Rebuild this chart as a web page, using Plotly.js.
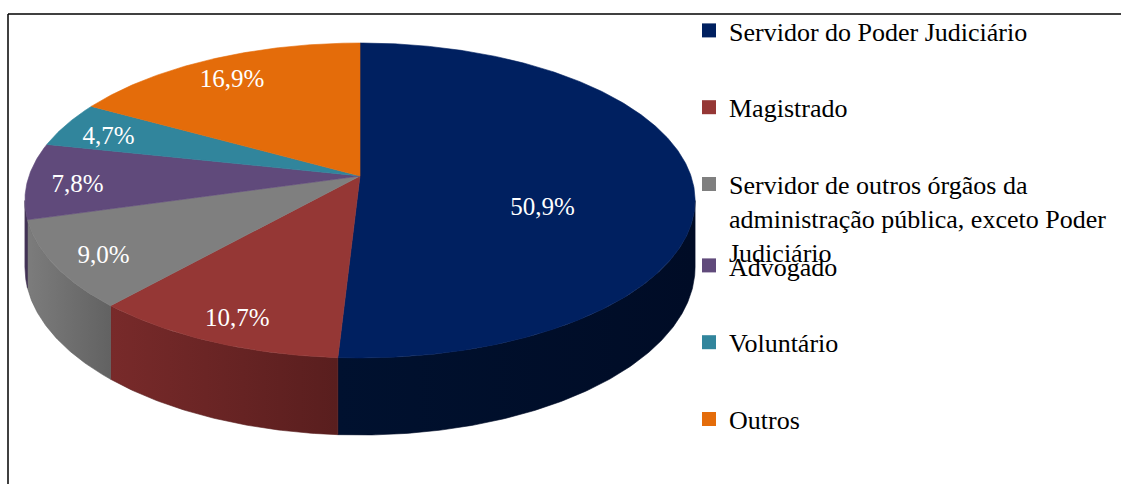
<!DOCTYPE html>
<html>
<head>
<meta charset="utf-8">
<script src="https://cdn.plot.ly/plotly-3.0.1.min.js"></script>
<style>html,body{margin:0;padding:0;background:#fff;}#chart{width:1121px;height:484px;}</style>
</head>
<body>
<div id="chart"></div>
<script>
// ---- data ----
const categories = ['Servidor do Poder Judiciário', 'Magistrado', 'Servidor de outros órgãos da administração pública, exceto Poder Judiciário', 'Advogado', 'Voluntário', 'Outros'];
const legendLabels = ['Servidor do Poder Judiciário', 'Magistrado', 'Servidor de outros órgãos da<br>administração pública, exceto Poder<br>Judiciário', 'Advogado', 'Voluntário', 'Outros'];
const shares = [50.9, 10.7, 9.0, 7.8, 4.7, 16.9];
const valueLabels = ['50,9%', '10,7%', '9,0%', '7,8%', '4,7%', '16,9%'];
const topColors = ['#002060', '#953735', '#7F7F7F', '#604A7B', '#31859C', '#E46C0A'];
const sideLight = ['#00112f', '#782a2a', '#7c7c7c', '#4c3a62', '#27697b', '#b45508'];
const sideDark = ['#000c26', '#591e1e', '#626262', '#3c2e4e', '#1e5361', '#8e4306'];

// ---- geometry (pixel space of the plot) ----
const CX = 360, CY = 176, A = 331, B = 153.7, K = 0.1556, D0 = 77;
const FONT = 'Liberation Serif, Times New Roman, serif';
const SIL = Math.acos(-K) * 180 / Math.PI;   // silhouette angle (~99 deg)

function proj(deg, r) {
  const t = deg * Math.PI / 180;
  const u = r * Math.sin(t), v = -r * Math.cos(t);
  const w = 1 - K * v;
  return [CX + A * u / w, CY + B * v / w, v];
}
function depth(v) { return D0 * (1 - K) / (1 - K * v); }

const total = shares.reduce((a, b) => a + b, 0);
const traces = [];
const sideTraces = [];
const topTraces = [];
const labelX = [], labelY = [];
let cum = 0;
shares.forEach((s, i) => {
  const a0 = cum / total * 360;
  const a1 = (cum + s) / total * 360;
  cum += s;
  // top face
  const xs = [CX], ys = [CY];
  const n = Math.max(4, Math.ceil((a1 - a0) / 0.5));
  for (let j = 0; j <= n; j++) {
    const p = proj(a0 + (a1 - a0) * j / n, 1);
    xs.push(p[0]); ys.push(p[1]);
  }
  xs.push(CX); ys.push(CY);
  topTraces.push({
    type: 'scatter', mode: 'lines', x: xs, y: ys, fill: 'toself',
    fillcolor: topColors[i], line: {color: topColors[i], width: 0.6},
    hoverinfo: 'text', text: categories[i] + ': ' + valueLabels[i], showlegend: false
  });
  // side face (visible front part)
  const s0 = Math.max(a0, SIL), s1 = Math.min(a1, 360 - SIL);
  if (s1 > s0) {
    const sx = [], sy = [];
    const m = Math.max(4, Math.ceil((s1 - s0) / 0.5));
    for (let j = 0; j <= m; j++) {
      const p = proj(s0 + (s1 - s0) * j / m, 1);
      sx.push(p[0]); sy.push(p[1]);
    }
    for (let j = m; j >= 0; j--) {
      const p = proj(s0 + (s1 - s0) * j / m, 1);
      sx.push(p[0]); sy.push(p[1] + depth(p[2]));
    }
    sx.push(sx[0]); sy.push(sy[0]);
    sideTraces.push({
      type: 'scatter', mode: 'lines', x: sx, y: sy, fill: 'toself',
      fillcolor: sideDark[i],
      fillgradient: {type: 'horizontal', colorscale: [[0, sideLight[i]], [1, sideDark[i]]]},
      line: {color: sideDark[i], width: 0.6}, hoverinfo: 'skip', showlegend: false
    });
  }
  // label position
  const frac = s / total;
  const mid = (a0 + a1) / 2;
  const r = frac > 0.3 ? 0.55 : 0.85;
  const p = proj(mid, r);
  labelX.push(p[0]);
  labelY.push(p[1] + (frac > 0.3 ? 30 : 6));
});

traces.push(...sideTraces, ...topTraces);
traces.push({
  type: 'scatter', mode: 'text', x: labelX, y: labelY, text: valueLabels,
  textfont: {family: FONT, size: 25, color: '#ffffff'}, textposition: 'middle center',
  hoverinfo: 'skip', showlegend: false
});
// legend entries
categories.forEach((c, i) => {
  traces.push({
    type: 'scatter', mode: 'markers', x: [null], y: [null], name: legendLabels[i],
    marker: {symbol: 'square', size: 14, color: topColors[i]},
    legend: i < 3 ? 'legend' : 'legend2', legendgroup: 'g' + i, showlegend: true, hoverinfo: 'skip'
  });
});

const legendCommon = {
  font: {family: FONT, size: 26, color: '#000'}, bgcolor: 'rgba(0,0,0,0)',
  valign: 'top', tracegroupgap: 40, xanchor: 'left', yanchor: 'top',
  itemclick: false, itemdoubleclick: false
};

const layout = {
  width: 1121, height: 484, autosize: false,
  margin: {l: 0, r: 0, t: 0, b: 0, pad: 0},
  paper_bgcolor: '#ffffff', plot_bgcolor: '#ffffff',
  xaxis: {range: [0, 1121], visible: false, fixedrange: true},
  yaxis: {range: [484, 0], visible: false, fixedrange: true},
  showlegend: true,
  legend: Object.assign({x: 689 / 1121, y: 1 - 7 / 484}, legendCommon),
  legend2: Object.assign({x: 689 / 1121, y: 1 - 242 / 484}, legendCommon),
  shapes: [
    {type: 'line', xref: 'x', yref: 'y', x0: 8, x1: 1121, y0: 14, y1: 14, line: {color: '#000', width: 1.5}},
    {type: 'line', xref: 'x', yref: 'y', x0: 8, x1: 8, y0: 14, y1: 484, line: {color: '#000', width: 1.5}}
  ]
};

Plotly.newPlot('chart', traces, layout, {displayModeBar: false});
</script>
</body>
</html>
